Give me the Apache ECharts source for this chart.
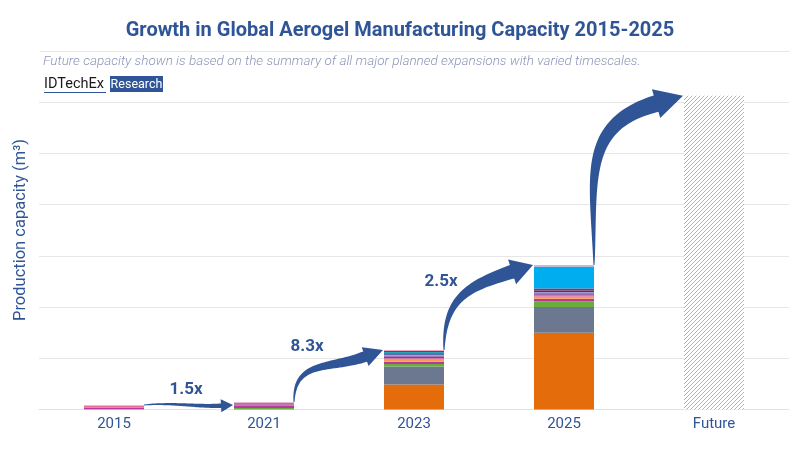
<!DOCTYPE html>
<html>
<head>
<meta charset="utf-8">
<script src="https://cdn.jsdelivr.net/npm/echarts/dist/echarts.min.js"></script>
<style>html,body{margin:0;padding:0;background:#fff}#chart{width:800px;height:450px}</style>
</head>
<body>
<div id="chart"></div>
<script>
// ---------- data ----------
const categories = ['2015', '2021', '2023', '2025', 'Future'];
// stacked capacity segments (bottom to top), arbitrary capacity units
const segOrange    = [0,     0,     0.49, 1.50, null];
const segGray      = [0,     0,     0.35, 0.50, null];
const segGreen     = [0.01,  0.03,  0.05, 0.11, null];
const segMagenta   = [0.03,  0.04,  0.04, 0.05, null];
const segLtOrange  = [0,     0,     0.04, 0.04, null];
const segPink      = [0.03,  0.03,  0.03, 0.04, null];
const segPurple    = [0,     0.02,  0.04, 0.03, null];
const segLavender  = [0.01,  0.01,  0.03, 0.02, null];
const segNavy      = [0,     0,     0.03, 0.03, null];
const segTeal      = [0,     0,     0.02, 0,    null];
const segDarkRed   = [0,     0,     0.02, 0.04, null];
const segBlue      = [0,     0,     0,    0.43, null];
const segTop       = [0.01,  0.015, 0.02, 0.03, null];
const futureCapacity = [null, null, null, null, 6.12];
const multipliers = ['1.5x', '8.3x', '2.5x', ''];

const titleText = 'Growth in Global Aerogel Manufacturing Capacity 2015-2025';
const subtitleText = 'Future capacity shown is based on the summary of all major planned expansions with varied timescales.';
const yAxisName = 'Production capacity (m\u00B3)';

// ---------- styles ----------
const BLUE = '#2F5597';
const segments = [
  ['Segment 1', segOrange, '#E46C0A'],
  ['Segment 2', segGray, '#6B7890'],
  ['Segment 3', segGreen, '#6AAD3D'],
  ['Segment 4', segMagenta, '#B8399E'],
  ['Segment 5', segLtOrange, '#F6A04D'],
  ['Segment 6', segPink, '#EC6F97'],
  ['Segment 7', segPurple, '#7B3FA0'],
  ['Segment 8', segLavender, '#A9A0D8'],
  ['Segment 9', segNavy, '#2F3E8F'],
  ['Segment 10', segTeal, '#27A3B8'],
  ['Segment 11', segDarkRed, '#9E2A54'],
  ['Segment 12', segBlue, '#00AEEF'],
  ['Segment 13', segTop, '#F3A5C2']
];

// hatch pattern for the future bar
const pc = document.createElement('canvas');
pc.width = 4; pc.height = 4;
const pctx = pc.getContext('2d');
pctx.fillStyle = '#ffffff'; pctx.fillRect(0, 0, 4, 4);
pctx.strokeStyle = '#8C9BD6'; pctx.lineWidth = 0.8;
pctx.beginPath();
pctx.moveTo(0, 4); pctx.lineTo(4, 0);
pctx.moveTo(-1, 1); pctx.lineTo(1, -1);
pctx.moveTo(3, 5); pctx.lineTo(5, 3);
pctx.stroke();

const series = segments.map(function (s) {
  return {
    name: s[0], type: 'bar', stack: 'cap', data: s[1], barWidth: 60,
    itemStyle: { color: s[2] }, clip: false, silent: true
  };
});
series.push({
  name: 'Future', type: 'bar', stack: 'cap', data: futureCapacity, barWidth: 60, clip: false,
  itemStyle: { color: { image: pc, repeat: 'repeat' } }, silent: true
});

const chart = echarts.init(document.getElementById('chart'), null, { renderer: 'canvas' });
const FONT = 'Roboto, "Noto Sans", sans-serif';

chart.setOption({
  animation: false,
  textStyle: { fontFamily: FONT },
  title: {
    text: titleText, left: 'center', top: 16,
    textStyle: { color: BLUE, fontSize: 20, fontWeight: 'bold', fontFamily: FONT }
  },
  grid: { left: 39, right: 11, top: 102, bottom: 40.5 },
  xAxis: {
    type: 'category', data: categories,
    axisLine: { show: true, lineStyle: { color: '#E3E3E3' } },
    axisTick: { show: false },
    axisLabel: { color: BLUE, fontSize: 15, margin: 7, fontFamily: FONT }
  },
  yAxis: {
    type: 'value', min: 0, max: 6, interval: 1,
    axisLabel: { show: false }, axisLine: { show: false }, axisTick: { show: false },
    splitLine: { lineStyle: { color: '#E6E6E6' } }
  },
  series: series
});

// ---------- decorations: arrows, labels, header ----------
function px(idx, val) { return chart.convertToPixel({ gridIndex: 0 }, [idx, val]); }
function total(i) {
  let s = 0;
  segments.forEach(function (seg) { s += seg[1][i] || 0; });
  return s + (futureCapacity[i] || 0);
}

function arrowPoints(T, H, angDeg, headLen, headHalf, shaftMax, startDir, k1, k2) {
  const a = angDeg * Math.PI / 180;
  const d = [Math.cos(a), -Math.sin(a)];
  const B = [H[0] - d[0] * headLen, H[1] - d[1] * headLen];
  const dist = Math.hypot(B[0] - T[0], B[1] - T[1]);
  const P1 = [T[0] + startDir[0] * dist * k1, T[1] + startDir[1] * dist * k1];
  const P2 = [B[0] - d[0] * dist * k2, B[1] - d[1] * dist * k2];
  const N = 40, L = [], R = [];
  for (let i = 0; i <= N; i++) {
    const t = i / N, u = 1 - t;
    const p = [
      u*u*u*T[0] + 3*u*u*t*P1[0] + 3*u*t*t*P2[0] + t*t*t*B[0],
      u*u*u*T[1] + 3*u*u*t*P1[1] + 3*u*t*t*P2[1] + t*t*t*B[1]
    ];
    const dv = [
      3*u*u*(P1[0]-T[0]) + 6*u*t*(P2[0]-P1[0]) + 3*t*t*(B[0]-P2[0]),
      3*u*u*(P1[1]-T[1]) + 6*u*t*(P2[1]-P1[1]) + 3*t*t*(B[1]-P2[1])
    ];
    const len = Math.hypot(dv[0], dv[1]) || 1;
    const n = [-dv[1] / len, dv[0] / len];
    const w = 0.5 + (shaftMax / 2 - 0.5) * Math.pow(t, 0.85);
    L.push([p[0] + n[0] * w, p[1] + n[1] * w]);
    R.push([p[0] - n[0] * w, p[1] - n[1] * w]);
  }
  const nh = [-d[1], d[0]];
  return L.concat(
    [[B[0] + nh[0] * headHalf, B[1] + nh[1] * headHalf], H, [B[0] - nh[0] * headHalf, B[1] - nh[1] * headHalf]],
    R.reverse()
  );
}

const half = 30;
const arrowSpecs = [
  { i: 0, ang: 3,  hl: 12, hh: 6.5, sw: 4.5, sd: [1, -0.08], k1: 0.4, k2: 0.3, lab: [42, -15], tailDy: 0, tipDy: 3 },
  { i: 1, ang: 20, hl: 19, hh: 10,  sw: 11, sd: [0, -1],    k1: 0.5, k2: 0.45, lab: [13, -55], tailDy: 0, tipDy: 0 },
  { i: 2, ang: 18, hl: 22, hh: 13,  sw: 14, sd: [0, -1],    k1: 0.5, k2: 0.45, lab: [-3, -68], tailDy: 0, tipDy: 0 },
  { i: 3, ang: 16, hl: 28, hh: 15,  sw: 17, sd: [0, -1],    k1: 0.5, k2: 0.45, lab: [0, 0], tailDy: 0, tipDy: 0 }
];

const graphics = [];
arrowSpecs.forEach(function (s) {
  const a = px(s.i, total(s.i));
  const b = px(s.i + 1, total(s.i + 1));
  const T = [a[0] + half, a[1] + s.tailDy];
  const H = [b[0] - half - 1, b[1] + s.tipDy];
  const pts = arrowPoints(T, H, s.ang, s.hl, s.hh, s.sw, s.sd, s.k1, s.k2);
  graphics.push({ type: 'polygon', shape: { points: pts }, style: { fill: '#2F5597' }, z: 10, silent: true });
  if (multipliers[s.i]) {
    graphics.push({
      type: 'text', x: T[0] + s.lab[0], y: T[1] + s.lab[1], z: 11, silent: true,
      style: { text: multipliers[s.i], fill: BLUE, font: 'bold 17px ' + FONT, textAlign: 'center', textVerticalAlign: 'middle' }
    });
  }
});

// header decoration
graphics.push({ type: 'line', shape: { x1: 40, y1: 51.5, x2: 790, y2: 51.5 }, style: { stroke: '#E6E6E6', lineWidth: 1 }, silent: true });
graphics.push({
  type: 'text', x: 43, y: 62, silent: true,
  style: { text: subtitleText, fill: '#8E96B8', font: 'italic 300 13.5px ' + FONT, textVerticalAlign: 'middle' }
});
graphics.push({
  type: 'text', x: 44, y: 84, silent: true,
  style: { text: 'IDTechEx', fill: '#1A1A1A', font: '14.5px ' + FONT, textVerticalAlign: 'middle' }
});
graphics.push({ type: 'line', shape: { x1: 44, y1: 92.5, x2: 106, y2: 92.5 }, style: { stroke: BLUE, lineWidth: 1 }, silent: true });
graphics.push({ type: 'rect', shape: { x: 110, y: 76, width: 53, height: 16 }, style: { fill: BLUE }, silent: true });
graphics.push({
  type: 'text', x: 136.5, y: 84.5, silent: true,
  style: { text: 'Research', fill: '#ffffff', font: '12.5px ' + FONT, textAlign: 'center', textVerticalAlign: 'middle' }
});
graphics.push({
  type: 'text', x: 21, y: 230, rotation: Math.PI / 2, silent: true,
  style: { text: yAxisName, fill: BLUE, font: '16.5px ' + FONT, textAlign: 'center', textVerticalAlign: 'middle' }
});

chart.setOption({ graphic: graphics });
</script>
</body>
</html>
